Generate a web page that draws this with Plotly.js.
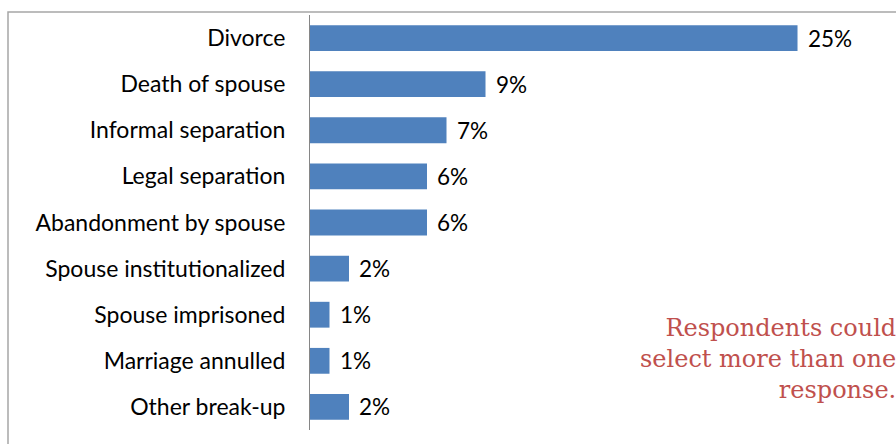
<!DOCTYPE html>
<html>
<head>
<meta charset="utf-8">
<script src="https://cdn.plot.ly/plotly-3.0.1.min.js"></script>
<style>html,body{margin:0;padding:0;background:#fff;}#chart{width:896px;height:444px;}</style>
</head>
<body>
<div id="chart"></div>
<script>
const categories = ["Divorce", "Death of spouse", "Informal separation", "Legal separation", "Abandonment by spouse", "Spouse institutionalized", "Spouse imprisoned", "Marriage annulled", "Other break-up"];
const values = [25, 9, 7, 6, 6, 2, 1, 1, 2];
const valueLabels = ["25%", "9%", "7%", "6%", "6%", "2%", "1%", "1%", "2%"];
const noteText = "Respondents could<br>select more than one<br>response.";

const trace = {
  type: "bar",
  orientation: "h",
  x: values,
  y: categories,
  marker: {color: "#4f81bd"},
  hoverinfo: "none"
};

const labelAnns = categories.map((c, i) => ({
  x: values[i], y: c, xref: "x", yref: "y",
  text: valueLabels[i], showarrow: false,
  xanchor: "left", xshift: 8,
  font: {family: "Lato, sans-serif", size: 22.5, color: "#000"}
}));

const layout = {
  width: 896, height: 444,
  margin: {l: 310, r: 0, t: 15, b: 14, pad: 0},
  paper_bgcolor: "#fff", plot_bgcolor: "#fff",
  showlegend: false,
  bargap: 0.44,
  xaxis: {range: [0, 30.05], showgrid: false, zeroline: false, showline: false, showticklabels: false, ticks: ""},
  yaxis: {autorange: "reversed", showgrid: false, zeroline: false, showline: true, linecolor: "#868686", linewidth: 1,
          ticks: "", ticklabelstandoff: 19,
          tickfont: {family: "Lato, sans-serif", size: 23, color: "#000"}},
  shapes: [{type: "rect", xref: "paper", yref: "paper",
            x0: (8 - 310) / 586, x1: 1.05, y0: -0.1, y1: 1 + 3 / 415,
            line: {color: "#a6a6a6", width: 1.5}, fillcolor: "rgba(0,0,0,0)", layer: "below"}],
  annotations: labelAnns.concat([{
    xref: "paper", yref: "paper", x: 1.004, y: 0.172, xanchor: "right", yanchor: "middle", align: "right",
    text: noteText, showarrow: false,
    font: {family: "DejaVu Serif, serif", size: 24, color: "#c0504d"}
  }])
};

Plotly.newPlot("chart", [trace], layout, {displayModeBar: false, staticPlot: true});
</script>
</body>
</html>
